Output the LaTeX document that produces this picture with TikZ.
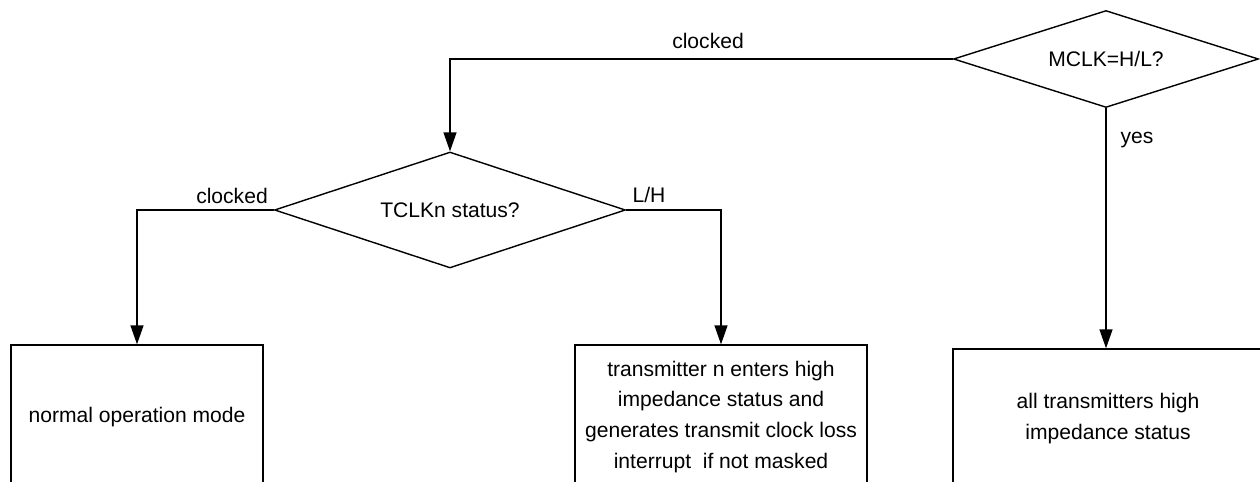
\documentclass[tikz,border=0pt]{standalone}
\usepackage{fontspec}
\setmainfont{Liberation Sans}
\usetikzlibrary{shapes.geometric, arrows.meta}

\tikzset{
  decision/.style={diamond, draw, line width=0.8pt, inner sep=0pt, aspect=3},
  statebox/.style={rectangle, draw, line width=0.8pt, align=center,
    font=\fontsize{12}{17.6}\selectfont},
  flow/.style={line width=0.8pt, -{Triangle[length=0.38cm, width=0.26cm]}},
  lbl/.style={font=\fontsize{12}{14}\selectfont},
}

\begin{document}
\begin{tikzpicture}[x=0.02cm, y=-0.02cm, font=\fontsize{12}{14}\selectfont]
            \useasboundingbox (0,0) rectangle (1260,482);
            % Tests
            \node[decision, minimum width=6.1cm, minimum height=1.94cm] (mclk) at (1106,59) {MCLK=H/L?};
            \node[decision, minimum width=7.02cm, minimum height=2.32cm] (tclk) at (450,210) {TCLKn status?};
            
            % Etats
            \node[statebox, minimum width=5.04cm, minimum height=2.88cm] (normal) at (137,417) {normal operation mode};
            \node[statebox, minimum width=5.84cm, minimum height=2.88cm] (txhiz) at (721,417)
                {transmitter n enters high\\impedance status and\\generates transmit clock loss\\interrupt~\ if not masked};
            \node[statebox, minimum width=6.2cm, minimum height=2.8cm] (allhiz) at (1108,419)
                {all transmitters high\\impedance status};
            
            % Liaisons
            \draw[flow] (mclk.west) -| (tclk.north);
            \draw[flow] (tclk.west) -| (normal.north);
            \draw[flow] (tclk.east) -| (txhiz.north);
            \draw[flow] (mclk.south) -- (mclk.south |- allhiz.north);
            
            % Etiquettes
            \node[lbl] (clkmain) at (708,41) {clocked};
            \node[lbl] (clkn) at (232,196) {clocked};
            \node[lbl] (lowhigh) at (649,195) {L/H};
            \node[lbl] (yes) at (1137,140) {yes};
        \end{tikzpicture}
\end{document}
